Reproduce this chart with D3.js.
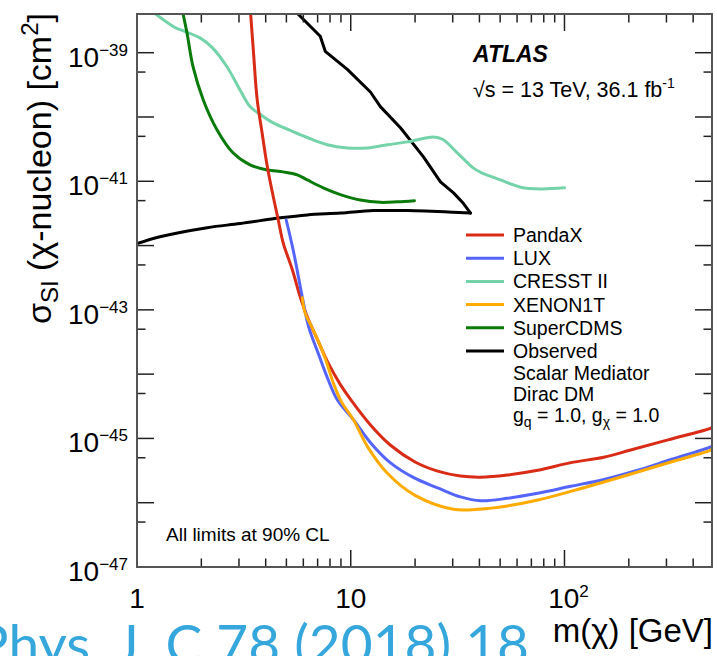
<!DOCTYPE html>
<html>
<head>
<meta charset="utf-8">
<script src="https://cdn.jsdelivr.net/npm/d3@7"></script>
<style>
  body { margin: 0; background: #fff; }
  svg { display: block; }
  text { font-family: "Liberation Sans", Arial, Helvetica, sans-serif; fill: #000; }
</style>
</head>
<body>
<svg id="chart" width="717" height="656"></svg>
<script>
// Axis ranges and tick labels
const massRange = [1, 490];          // m(chi) [GeV]
const sigmaRange = [1e-47, 4e-39];   // sigma_SI [cm^2]
const yLabelExponents = [-47, -45, -43, -41, -39];
const xLabelTicks = [1, 10, 100];

// Direct-detection limits and the ATLAS observed contour (90% CL)
const pandaxMass  = [3.4, 3.5, 3.65, 3.85, 4.07, 4.34, 4.58, 4.83, 5.33, 5.8, 6.26, 7.0, 7.85, 8.9, 10, 12.4, 15.3, 20, 25.5, 32.6, 40.5, 54, 75, 107, 153, 204, 305, 484, 490];
const pandaxSigma = [4.1e-39, 1.12e-39, 1.86e-40, 5.6e-41, 1.7e-41, 5.75e-42, 2.5e-42, 1.1e-42, 4.2e-43, 1.6e-43, 7.8e-44, 3.4e-44, 1.48e-44, 7.05e-45, 4.0e-45, 1.6e-45, 7.9e-46, 4.3e-46, 3.1e-46, 2.6e-46, 2.5e-46, 2.7e-46, 3.2e-46, 4.2e-46, 5.1e-46, 6.6e-46, 9.5e-46, 1.45e-45, 1.5e-45];

const luxMass  = [4.99, 5.38, 5.93, 6.35, 7.05, 7.85, 8.65, 10.3, 12.4, 15.3, 19.7, 25.5, 32.6, 40.5, 54, 75, 107, 153, 220, 315, 484, 490];
const luxSigma = [2.5e-42, 8.5e-43, 1.6e-43, 5.5e-44, 2.1e-44, 8.1e-45, 4.0e-45, 1.95e-45, 8.5e-46, 4.2e-46, 2.45e-46, 1.7e-46, 1.23e-46, 1.07e-46, 1.17e-46, 1.4e-46, 1.8e-46, 2.3e-46, 3.2e-46, 4.7e-46, 7.4e-46, 7.6e-46];

const cresstMass  = [1.21, 1.51, 1.64, 1.97, 2.25, 2.64, 3.04, 3.38, 3.77, 4.34, 5.21, 6.26, 7.77, 9.64, 11.96, 14.84, 18.42, 24.4, 26.9, 31.6, 37.5, 40.5, 50.2, 62.3, 77.3, 100];
const cresstSigma = [4.1e-39, 2.45e-39, 2.2e-39, 1.7e-39, 1.2e-39, 6.0e-40, 2.6e-40, 1.45e-40, 1.1e-40, 8.1e-41, 6.2e-41, 4.8e-41, 3.7e-41, 3.3e-41, 3.3e-41, 3.7e-41, 4.1e-41, 4.9e-41, 4.5e-41, 2.75e-41, 1.6e-41, 1.38e-41, 1.05e-41, 8.1e-42, 7.6e-42, 7.9e-42];

const xenonMass  = [5.93, 6.12, 6.78, 7.55, 8.35, 9.05, 10.3, 12.0, 14.8, 20, 30.3, 39.2, 54, 75, 107, 153, 220, 315, 484, 490];
const xenonSigma = [1.55e-43, 8.9e-44, 4.4e-44, 1.86e-44, 6.8e-45, 3.7e-45, 1.95e-45, 7.4e-46, 2.9e-46, 1.3e-46, 7.9e-47, 7.9e-47, 8.9e-47, 1.1e-46, 1.5e-46, 2.1e-46, 3.0e-46, 4.3e-46, 6.6e-46, 6.9e-46];

const superCdmsMass  = [1.64, 1.715, 1.83, 2.04, 2.37, 2.82, 3.38, 4.07, 4.83, 5.62, 6.26, 7.44, 8.94, 11.09, 13.76, 16.54, 19.86];
const superCdmsSigma = [4.1e-39, 2.0e-39, 6.0e-40, 1.86e-40, 6.3e-41, 2.75e-41, 1.8e-41, 1.5e-41, 1.4e-41, 1.26e-41, 1.05e-41, 7.9e-42, 6.2e-42, 5.1e-42, 4.7e-42, 4.8e-42, 5.0e-42];

// Observed contour: lower edge left to right, then upper edge back to the top
const observedMass  = [1.0, 1.28, 2.13, 3.04, 4.68, 6.26, 8.94, 12.76, 18.42, 30.26, 36.35, 33.70, 30.26, 26.29, 21.89, 17.08, 13.76, 12.36, 9.64, 7.60, 7.20, 5.62];
const observedSigma = [1.07e-42, 1.37e-42, 1.9e-42, 2.2e-42, 2.7e-42, 3.0e-42, 3.2e-42, 3.5e-42, 3.5e-42, 3.3e-42, 3.2e-42, 4.5e-42, 6.6e-42, 9.8e-42, 2.4e-41, 6.8e-41, 1.45e-40, 2.45e-40, 5.5e-40, 1.05e-39, 1.8e-39, 4.1e-39];
const observedTurnIndex = 10;  // high-mass tip of the contour

const series = [
  { name: "Observed",  mass: observedMass,  sigma: observedSigma,  color: "#000000" },
  { name: "CRESST II", mass: cresstMass,    sigma: cresstSigma,    color: "#74d3a9" },
  { name: "SuperCDMS", mass: superCdmsMass, sigma: superCdmsSigma, color: "#0a7a0a" },
  { name: "PandaX",    mass: pandaxMass,    sigma: pandaxSigma,    color: "#d82c16" },
  { name: "LUX",       mass: luxMass,       sigma: luxSigma,       color: "#5565fa" },
  { name: "XENON1T",   mass: xenonMass,     sigma: xenonSigma,     color: "#ffab00" }
];
const legendOrder = ["PandaX", "LUX", "CRESST II", "XENON1T", "SuperCDMS", "Observed"];

// Layout
const frame = { left: 137, right: 712, top: 14, bottom: 567 };
const svg = d3.select("#chart");
const x = d3.scaleLog().domain(massRange).range([frame.left, frame.right]);
const y = d3.scaleLog().domain(sigmaRange).range([frame.bottom, frame.top]);

svg.append("rect").attr("width", 717).attr("height", 656).attr("fill", "#fff");

// Citation running along the bottom of the page
svg.append("text")
  .attr("x", 529).attr("y", 664)
  .attr("text-anchor", "end")
  .style("font-family", "Lato, 'Open Sans', sans-serif")
  .style("font-size", "55px")
  .style("fill", "#36a7dc")
  .text("Eur. Phys. J. C 78 (2018) 18");

svg.append("clipPath").attr("id", "plotArea")
  .append("rect")
  .attr("x", frame.left).attr("y", frame.top)
  .attr("width", frame.right - frame.left).attr("height", frame.bottom - frame.top);

// Curves
const smoothLine = d3.line().x(d => x(d[0])).y(d => y(d[1])).curve(d3.curveCatmullRom.alpha(0.5));
const straightLine = d3.line().x(d => x(d[0])).y(d => y(d[1]));
const curves = svg.append("g").attr("clip-path", "url(#plotArea)");

function drawPath(points, gen, color) {
  curves.append("path")
    .datum(points)
    .attr("d", gen)
    .attr("fill", "none")
    .attr("stroke", color)
    .attr("stroke-width", 3)
    .attr("stroke-linejoin", "round")
    .attr("stroke-linecap", "round");
}

series.forEach(s => {
  const pts = s.mass.map((m, i) => [m, s.sigma[i]]);
  if (s.name === "Observed") {
    drawPath(pts.slice(0, observedTurnIndex + 1), smoothLine, s.color);
    drawPath(pts.slice(observedTurnIndex), straightLine, s.color);
  } else {
    drawPath(pts, smoothLine, s.color);
  }
});

// Frame and ticks on all four sides
const axes = svg.append("g").attr("stroke", "#222").attr("stroke-width", 1.5);
const majorLen = 17, minorLen = 8.5;

x.ticks().forEach(v => {
  const isMajor = Math.abs(Math.log10(v) - Math.round(Math.log10(v))) < 1e-9;
  const len = isMajor ? majorLen : minorLen;
  const px = x(v);
  axes.append("line").attr("x1", px).attr("x2", px).attr("y1", frame.bottom).attr("y2", frame.bottom - len);
  axes.append("line").attr("x1", px).attr("x2", px).attr("y1", frame.top).attr("y2", frame.top + len);
});

const yTicks = [];
for (let e = -47; e <= -39; e++) {
  yTicks.push({ v: Math.pow(10, e), major: true });
  if (e > -47) yTicks.push({ v: 5 * Math.pow(10, e - 1), major: false });
}
yTicks.forEach(t => {
  const len = t.major ? majorLen : minorLen;
  const py = y(t.v);
  axes.append("line").attr("x1", frame.left).attr("x2", frame.left + len).attr("y1", py).attr("y2", py);
  axes.append("line").attr("x1", frame.right).attr("x2", frame.right - len).attr("y1", py).attr("y2", py);
});

svg.append("rect")
  .attr("x", frame.left).attr("y", frame.top)
  .attr("width", frame.right - frame.left).attr("height", frame.bottom - frame.top)
  .attr("fill", "none").attr("stroke", "#555").attr("stroke-width", 2);

// Tick labels
yLabelExponents.forEach(e => {
  const t = svg.append("text")
    .attr("x", 128).attr("y", y(Math.pow(10, e)) + 14)
    .attr("text-anchor", "end")
    .style("font-size", "28px");
  t.append("tspan").text("10");
  t.append("tspan").attr("dy", -11).style("font-size", "17px").text("\u2212" + Math.abs(e));
});

xLabelTicks.forEach(v => {
  const e = Math.round(Math.log10(v));
  const t = svg.append("text")
    .attr("x", x(v) + (e > 1 ? 4 : 0)).attr("y", 608)
    .attr("text-anchor", "middle")
    .style("font-size", "28px");
  if (e === 0) t.text("1");
  else if (e === 1) t.text("10");
  else {
    t.append("tspan").text("10");
    t.append("tspan").attr("dy", -11).style("font-size", "17px").text(String(e));
  }
});

// Axis titles
svg.append("text")
  .attr("x", 713).attr("y", 642)
  .attr("text-anchor", "end")
  .style("font-size", "33px")
  .text("m(\u03c7) [GeV]");

const yTitle = svg.append("text")
  .attr("transform", "translate(51,13) rotate(-90)")
  .attr("text-anchor", "end")
  .style("font-size", "34px");
yTitle.append("tspan").text("\u03c3");
yTitle.append("tspan").attr("dy", 7).style("font-size", "24px").text("SI");
yTitle.append("tspan").attr("dy", -7).text(" (\u03c7-nucleon) [cm");
yTitle.append("tspan").attr("dy", -13).style("font-size", "24px").text("2");
yTitle.append("tspan").attr("dy", 13).text("]");

// ATLAS label
svg.append("text")
  .attr("x", 473).attr("y", 62)
  .style("font-size", "23px").style("font-weight", "bold").style("font-style", "italic")
  .text("ATLAS");
const energy = svg.append("text")
  .attr("x", 473).attr("y", 97)
  .style("font-size", "21.5px");
energy.append("tspan").text("\u221as = 13 TeV, 36.1 fb");
energy.append("tspan").attr("dy", -9).style("font-size", "14px").text("-1");

// Legend
const legend = svg.append("g");
const legendBaselines = [242, 265.2, 288.4, 311.6, 334.8, 358];
legendOrder.forEach((name, i) => {
  const s = series.find(d => d.name === name);
  const by = legendBaselines[i];
  legend.append("line")
    .attr("x1", 466).attr("x2", 504).attr("y1", by - 7).attr("y2", by - 7)
    .attr("stroke", s.color).attr("stroke-width", 3);
  legend.append("text").attr("x", 513).attr("y", by).style("font-size", "19.5px").text(name);
});
legend.append("text").attr("x", 513).attr("y", 380).style("font-size", "19.5px").text("Scalar Mediator");
legend.append("text").attr("x", 513).attr("y", 401).style("font-size", "19.5px").text("Dirac DM");
const couplings = legend.append("text").attr("x", 513).attr("y", 422).style("font-size", "19.5px");
couplings.append("tspan").text("g");
couplings.append("tspan").attr("dy", 5).style("font-size", "14px").text("q");
couplings.append("tspan").attr("dy", -5).text(" = 1.0, g");
couplings.append("tspan").attr("dy", 5).style("font-size", "14px").text("\u03c7");
couplings.append("tspan").attr("dy", -5).text(" = 1.0");

// Confidence-level note
svg.append("text")
  .attr("x", 166).attr("y", 541)
  .style("font-size", "19px")
  .text("All limits at 90% CL");
</script>
</body>
</html>
